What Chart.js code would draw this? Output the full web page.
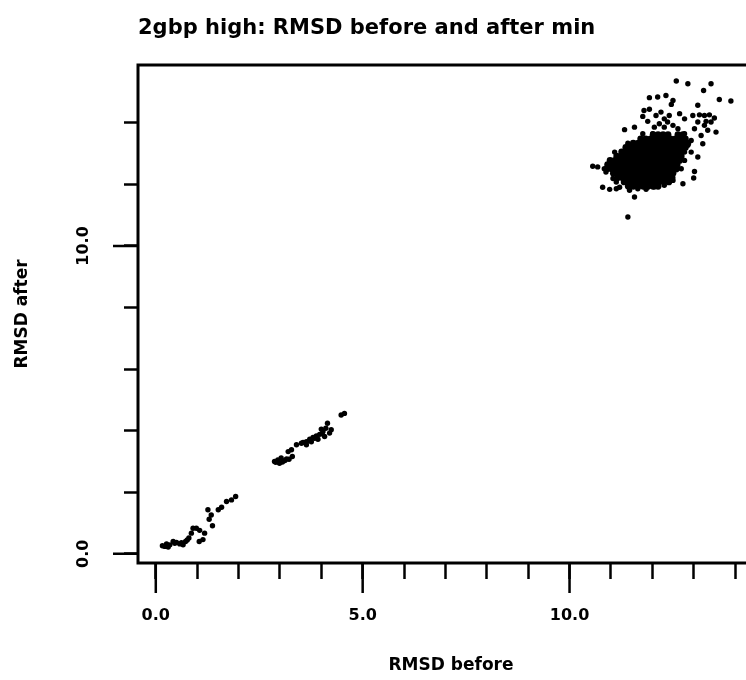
<!DOCTYPE html>
<html>
<head>
<meta charset="utf-8">
<script src="https://cdn.jsdelivr.net/npm/chart.js@4/dist/chart.umd.min.js"></script>
<style>
  html, body { margin: 0; padding: 0; background: #fff; overflow: hidden; }
  #wrap { width: 780px; height: 680px; }
  canvas { display: block; }
</style>
</head>
<body>
<div id="wrap"><canvas id="c" width="780" height="680"></canvas></div>
<script>
// ---- data (RMSD before, RMSD after) ----
const chartTitle = '2gbp high: RMSD before and after min';
const xAxisTitle = 'RMSD before';
const yAxisTitle = 'RMSD after';

const xLabeledTicks = [0, 5, 10];
const xTickLabels = ['0.0', '5.0', '10.0'];
const yLabeledTicks = [0, 10];
const yTickLabels = ['0.0', '10.0'];

// cluster near the origin
const clusterLow = [
  [0.16,0.26],[0.22,0.24],[0.26,0.32],[0.34,0.29],[0.42,0.40],[0.50,0.37],[0.58,0.32],
  [0.66,0.29],[0.72,0.40],[0.80,0.51],[0.86,0.67],[0.90,0.83],[0.98,0.83],[1.06,0.76],
  [1.05,0.40],[1.14,0.46],[1.18,0.67],[1.29,1.12],[1.37,0.91],[1.34,1.26],[1.26,1.43],
  [1.51,1.43],[1.59,1.51],[1.71,1.70],[1.83,1.75],[1.93,1.86],[0.30,0.22],[0.62,0.36],
  [0.46,0.34],[0.76,0.45]
];

// cluster around 3 - 4.6
const clusterMid = [
  [2.87,3.00],[2.95,3.05],[3.03,3.11],[3.12,3.03],[3.22,3.07],[3.30,3.16],[2.99,2.94],
  [2.90,2.97],[3.06,2.98],[3.20,3.32],[3.28,3.38],[3.40,3.54],[3.52,3.59],[3.64,3.64],
  [3.72,3.72],[3.80,3.78],[3.88,3.83],[3.96,3.88],[4.04,3.97],[4.11,4.08],[4.15,4.24],
  [4.20,3.92],[4.24,4.03],[4.08,3.81],[3.92,3.72],[3.76,3.64],[3.64,3.54],[3.56,3.62],
  [4.00,4.05],[4.48,4.51],[4.56,4.56],[3.16,3.08],[3.84,3.75],[4.02,3.90]
];

// scattered points of the upper cluster
const clusterHighOuter = [
  [12.58,15.36],[12.86,15.27],[13.42,15.27],[13.24,15.05],[13.62,14.76],[13.90,14.71],
  [11.93,14.82],[12.13,14.84],[12.33,14.89],[12.50,14.73],[12.46,14.60],[11.80,14.40],
  [11.93,14.44],[11.77,14.21],[11.89,14.05],[12.09,14.24],[12.29,14.13],[12.41,14.24],
  [12.66,14.30],[13.10,14.57],[12.98,14.24],[13.14,14.26],[13.26,14.24],[13.38,14.26],
  [13.42,14.03],[13.26,13.92],[13.10,14.03],[13.54,13.70],[13.34,13.76],[11.33,13.78],
  [11.57,13.86],[11.77,13.65],[11.41,13.34],[12.01,13.65],[12.17,13.97],[12.29,13.86],
  [12.78,13.65],[12.94,13.43],[13.22,13.32],[13.10,12.89],[13.02,12.42],[13.00,12.21],
  [12.74,12.02],[12.78,12.78],[10.56,12.59],[10.68,12.57],[10.84,12.51],[10.88,12.40],
  [10.80,11.91],[10.97,11.84],[11.13,11.86],[11.21,11.91],[11.09,13.05],[11.13,12.73],
  [11.21,12.84],[11.33,12.78],[11.17,12.46],[11.05,12.19],[11.13,12.08],[11.45,11.81],
  [11.57,11.59],[11.41,10.94],[12.05,11.92],[12.29,11.97],[12.21,14.35],[12.37,14.03],
  [12.50,13.92],[12.62,13.81],[12.05,13.86],[12.78,14.13],[13.02,13.81],[13.18,13.59],
  [12.86,13.27],[12.78,13.05],[12.94,13.05],[12.70,12.51],[12.50,12.13],[11.85,11.84],
  [11.65,11.86],[13.50,14.16],[13.30,14.05]
];

// dense core of the upper cluster
const clusterHighCore = [
  [12.02,13.62],[12.14,13.62],[12.26,13.62],[12.38,13.62],[12.62,13.62],[12.74,13.62],
  [11.72,13.48],[11.84,13.48],[11.96,13.48],[12.08,13.48],[12.20,13.48],[12.32,13.48],[12.44,13.48],[12.56,13.48],[12.68,13.48],[12.80,13.48],
  [11.54,13.34],[11.66,13.34],[11.78,13.34],[11.90,13.34],[12.02,13.34],[12.14,13.34],[12.26,13.34],[12.38,13.34],[12.50,13.34],[12.62,13.34],[12.74,13.34],[12.86,13.34],
  [11.36,13.20],[11.48,13.20],[11.60,13.20],[11.72,13.20],[11.84,13.20],[11.96,13.20],[12.08,13.20],[12.20,13.20],[12.32,13.20],[12.44,13.20],[12.56,13.20],[12.68,13.20],[12.80,13.20],
  [11.26,13.06],[11.38,13.06],[11.50,13.06],[11.62,13.06],[11.74,13.06],[11.86,13.06],[11.98,13.06],[12.10,13.06],[12.22,13.06],[12.34,13.06],[12.46,13.06],[12.58,13.06],[12.70,13.06],
  [11.14,12.92],[11.26,12.92],[11.38,12.92],[11.50,12.92],[11.62,12.92],[11.74,12.92],[11.86,12.92],[11.98,12.92],[12.10,12.92],[12.22,12.92],[12.34,12.92],[12.46,12.92],[12.58,12.92],[12.70,12.92],
  [10.98,12.78],[11.10,12.78],[11.22,12.78],[11.34,12.78],[11.46,12.78],[11.58,12.78],[11.70,12.78],[11.82,12.78],[11.94,12.78],[12.06,12.78],[12.18,12.78],[12.30,12.78],[12.42,12.78],[12.54,12.78],[12.66,12.78],
  [10.92,12.64],[11.04,12.64],[11.16,12.64],[11.28,12.64],[11.40,12.64],[11.52,12.64],[11.64,12.64],[11.76,12.64],[11.88,12.64],[12.00,12.64],[12.12,12.64],[12.24,12.64],[12.36,12.64],[12.48,12.64],[12.60,12.64],
  [10.90,12.50],[11.02,12.50],[11.14,12.50],[11.26,12.50],[11.38,12.50],[11.50,12.50],[11.62,12.50],[11.74,12.50],[11.86,12.50],[11.98,12.50],[12.10,12.50],[12.22,12.50],[12.34,12.50],[12.46,12.50],[12.58,12.50],
  [11.06,12.36],[11.18,12.36],[11.30,12.36],[11.42,12.36],[11.54,12.36],[11.66,12.36],[11.78,12.36],[11.90,12.36],[12.02,12.36],[12.14,12.36],[12.26,12.36],[12.38,12.36],[12.50,12.36],
  [11.16,12.22],[11.28,12.22],[11.40,12.22],[11.52,12.22],[11.64,12.22],[11.76,12.22],[11.88,12.22],[12.00,12.22],[12.12,12.22],[12.24,12.22],[12.36,12.22],[12.48,12.22],
  [11.32,12.08],[11.44,12.08],[11.56,12.08],[11.68,12.08],[11.80,12.08],[11.92,12.08],[12.04,12.08],[12.16,12.08],[12.28,12.08],[12.40,12.08],
  [11.42,11.94],[11.54,11.94],[11.66,11.94],[11.78,11.94],[11.90,11.94],[12.02,11.94],[12.14,11.94]
];

const toXY = p => ({ x: p[0], y: p[1] });
const scatteredPoints = [].concat(clusterLow, clusterMid, clusterHighOuter).map(toXY);
const corePoints = clusterHighCore.map(toXY);

const FONT = "'DejaVu Sans', 'Liberation Sans', sans-serif";

// frame around the plot area + long major ticks
const framePlugin = {
  id: 'frame',
  afterDraw(chart) {
    const { ctx, chartArea: a, scales } = chart;
    ctx.save();
    ctx.strokeStyle = '#000';
    ctx.lineWidth = 3;
    ctx.strokeRect(a.left, a.top, a.right - a.left, a.bottom - a.top);
    ctx.lineWidth = 2.5;
    ctx.beginPath();
    scales.x.ticks.forEach(t => {
      if (xLabeledTicks.includes(t.value)) {
        const px = scales.x.getPixelForValue(t.value);
        ctx.moveTo(px, a.bottom);
        ctx.lineTo(px, a.bottom + 30);
      }
    });
    scales.y.ticks.forEach(t => {
      if (yLabeledTicks.includes(t.value)) {
        const py = scales.y.getPixelForValue(t.value);
        ctx.moveTo(a.left - 25, py);
        ctx.lineTo(a.left, py);
      }
    });
    ctx.stroke();
    ctx.restore();
  }
};

const pointStyle = (r) => ({
  pointRadius: r,
  pointHoverRadius: r,
  pointBorderWidth: 0,
  pointBackgroundColor: '#000',
  borderColor: '#000',
  backgroundColor: '#000'
});

new Chart(document.getElementById('c'), {
  type: 'scatter',
  data: {
    datasets: [
      Object.assign({ label: 'RMSD', data: scatteredPoints }, pointStyle(2.7)),
      Object.assign({ label: 'RMSD core', data: corePoints }, pointStyle(3.4))
    ]
  },
  options: {
    responsive: false,
    animation: false,
    layout: { padding: { left: 0, right: 16, top: 0, bottom: 0 } },
    plugins: {
      legend: { display: false },
      tooltip: { enabled: false },
      title: {
        display: true,
        text: chartTitle,
        align: 'start',
        fullSize: false,
        color: '#000',
        font: { family: FONT, size: 21, weight: 'bold' },
        padding: { top: 16, bottom: 23.8 }
      }
    },
    scales: {
      x: {
        type: 'linear',
        min: -0.43,
        max: 14.7,
        border: { display: false },
        grid: { drawOnChartArea: false, drawTicks: true, tickLength: 16, tickWidth: 2.5, tickColor: '#000' },
        ticks: {
          stepSize: 1,
          includeBounds: false,
          autoSkip: false,
          maxRotation: 0,
          minRotation: 0,
          padding: 27,
          color: '#000',
          font: { family: FONT, size: 16, weight: 'bold' },
          callback: v => { const i = xLabeledTicks.indexOf(v); return i >= 0 ? xTickLabels[i] : ''; }
        },
        title: {
          display: true,
          text: xAxisTitle,
          color: '#000',
          font: { family: FONT, size: 17, weight: 'bold' },
          padding: { top: 0, bottom: 4 }
        },
        afterFit(scale) { scale.height = 117; }
      },
      y: {
        type: 'linear',
        min: -0.3,
        max: 15.88,
        border: { display: false },
        grid: { drawOnChartArea: false, drawTicks: true, tickLength: 14, tickWidth: 2.5, tickColor: '#000' },
        ticks: {
          stepSize: 2,
          includeBounds: false,
          autoSkip: false,
          minRotation: 90,
          maxRotation: 90,
          crossAlign: 'center',
          padding: 20,
          color: '#000',
          font: { family: FONT, size: 16, weight: 'bold' },
          callback: v => { const i = yLabeledTicks.indexOf(v); return i >= 0 ? yTickLabels[i] : ''; }
        },
        title: {
          display: true,
          text: yAxisTitle,
          color: '#000',
          font: { family: FONT, size: 17, weight: 'bold' },
          padding: { top: 12, bottom: 0 }
        },
        afterFit(scale) { scale.width = 138; }
      }
    }
  },
  plugins: [framePlugin]
});
</script>
</body>
</html>
